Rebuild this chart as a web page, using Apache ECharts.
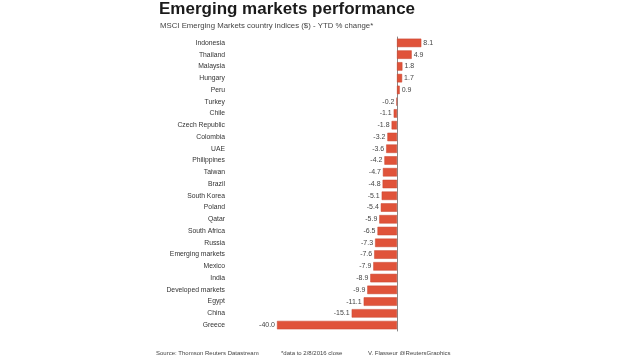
<!DOCTYPE html>
<html>
<head>
<meta charset="utf-8">
<script src="https://cdn.jsdelivr.net/npm/echarts@6/dist/echarts.min.js"></script>
<style>html,body{margin:0;padding:0;background:#fff;}#c{width:620px;height:355px;}</style>
</head>
<body>
<div id="c"></div>
<script>
var categories = ["Indonesia","Thailand","Malaysia","Hungary","Peru","Turkey","Chile","Czech Republic","Colombia","UAE","Philippines","Taiwan","Brazil","South Korea","Poland","Qatar","South Africa","Russia","Emerging markets","Mexico","India","Developed markets","Egypt","China","Greece"];
var values = [8.1,4.9,1.8,1.7,0.9,-0.2,-1.1,-1.8,-3.2,-3.6,-4.2,-4.7,-4.8,-5.1,-5.4,-5.9,-6.5,-7.3,-7.6,-7.9,-8.9,-9.9,-11.1,-15.1,-40.0];
var titleText = "Emerging markets performance";
var subtitleText = "MSCI Emerging Markets country indices ($) - YTD % change*";
var footerTexts = ["Source: Thomson Reuters Datastream","*data to 2/8/2016 close","V. Flasseur @ReutersGraphics"];

var chart = echarts.init(document.getElementById('c'));
var F = '"Liberation Sans", Arial, sans-serif';
chart.setOption({
  backgroundColor: '#fff',
  animation: false,
  graphic: [
    {type: 'text', left: 159, top: 1, style: {text: titleText, fontFamily: F, fontSize: 17, fontWeight: 'bold', fill: '#1a1a1a'}},
    {type: 'text', left: 160, top: 22, style: {text: subtitleText, fontFamily: F, fontSize: 7.8, fill: '#444'}},
    {type: 'text', left: 156, top: 350, style: {text: footerTexts[0], fontFamily: F, fontSize: 6, fill: '#444'}},
    {type: 'text', left: 281, top: 350, style: {text: footerTexts[1], fontFamily: F, fontSize: 6, fill: '#444'}},
    {type: 'text', left: 368, top: 350, style: {text: footerTexts[2], fontFamily: F, fontSize: 6, fill: '#444'}}
  ],
  grid: {left: 229, right: 181, top: 37, height: 294, containLabel: false},
  xAxis: {
    type: 'value', min: -56, max: 14,
    axisLine: {show: false}, axisTick: {show: false}, axisLabel: {show: false}, splitLine: {show: false}
  },
  yAxis: {
    type: 'category', data: categories, inverse: true,
    axisLine: {show: true, onZero: true, lineStyle: {color: '#888', width: 1}},
    axisTick: {show: false},
    axisLabel: {fontFamily: F, fontSize: 6.8, color: '#333', margin: 4, interval: 0},
    splitLine: {show: false}
  },
  series: [{
    type: 'bar', data: values.map(function(v){
      return {value: v, label: {position: v >= 0 ? 'right' : 'left'}};
    }),
    barWidth: '72%',
    itemStyle: {color: '#E0533A', borderColor: '#C9442E', borderWidth: 0.5},
    label: {show: true, fontFamily: F, fontSize: 7, color: '#444', distance: 2,
      formatter: function(p){ return p.value.toFixed(1); }}
  }]
});
</script>
</body>
</html>
